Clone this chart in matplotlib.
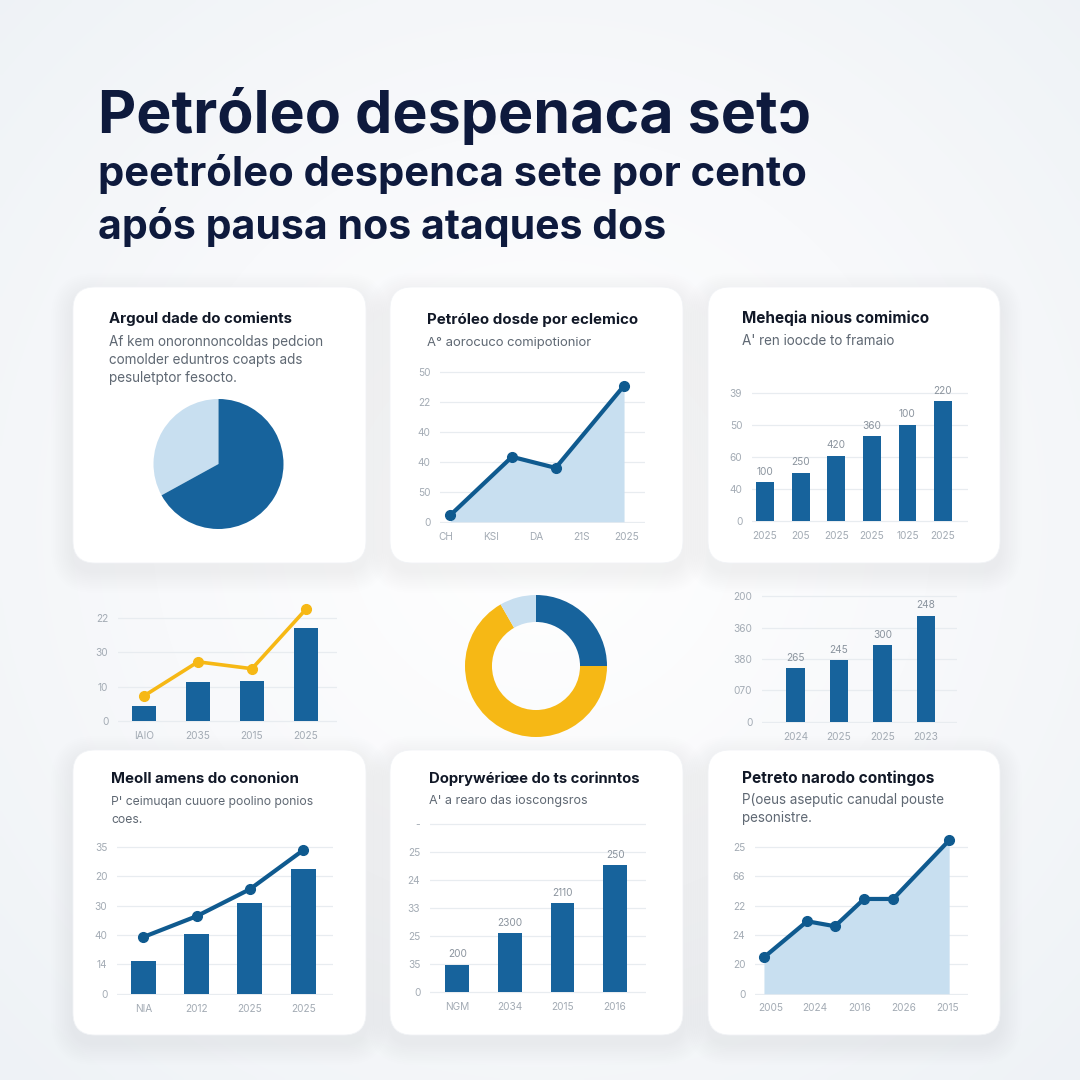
import numpy as np
import matplotlib
matplotlib.use("Agg")
import matplotlib.pyplot as plt
from matplotlib.patches import FancyBboxPatch
from matplotlib.colors import LinearSegmentedColormap

# ---------------- data ----------------
headline = "Petróleo despenaca setɔ"
subhead1 = "peetróleo despenca sete por cento"
subhead2 = "após pausa nos ataques dos"

card_titles = ["Argoul dade do comients", "Petróleo dosde por eclemico", "Meheqia nious comimico",
               "Meoll amens do cononion", "Doprywériœe do ts corinntos", "Petreto narodo contingos"]
card_subs = [["Af kem onoronnoncoldas pedcion", "comolder eduntros coapts ads", "pesuletptor fesocto."],
             ["A° aorocuco comipotionior"],
             ["A' ren ioocde to framaio"],
             ["P' ceimuqan cuuore poolino ponios", "coes."],
             ["A' a rearo das ioscongsros"],
             ["P(oeus aseputic canudal pouste", "pesonistre."]]

# card 1: pie
pie_values = [33, 67]

# card 2: area line
c2_x_labels = ["CH", "KSI", "DA", "21S", "2025"]
c2_y_labels = ["0", "50", "40", "40", "22", "50"]
c2_x = [0.09, 1.46, 2.43, 3.95]
c2_y = [0.22, 2.17, 1.80, 4.55]

# card 3: bars
c3_x_labels = ["2025", "205", "2025", "2025", "1025", "2025"]
c3_y_labels = ["0", "40", "60", "50", "39"]
c3_values = [1.21, 1.52, 2.05, 2.66, 3.02, 3.76]
c3_value_labels = ["100", "250", "420", "360", "100", "220"]

# middle left: bars + yellow line
m1_x_labels = ["IAIO", "2035", "2015", "2025"]
m1_y_labels = ["0", "10", "30", "22"]
m1_bars = [0.43, 1.12, 1.16, 2.71]
m1_line = [0.73, 1.72, 1.52, 3.25]

# middle: donut
donut_values = [25, 66.7, 8.3]

# middle right: bars
m3_x_labels = ["2024", "2025", "2025", "2023"]
m3_y_labels = ["0", "070", "380", "360", "200"]
m3_values = [1.70, 1.96, 2.43, 3.37]
m3_value_labels = ["265", "245", "300", "248"]

# bottom left: bars + line
b1_x_labels = ["NIA", "2012", "2025", "2025"]
b1_y_labels = ["0", "14", "40", "30", "20", "35"]
b1_bars = [1.10, 2.03, 3.08, 4.26]
b1_line = [1.93, 2.64, 3.56, 4.89]

# bottom middle: bars
b2_x_labels = ["NGM", "2034", "2015", "2016"]
b2_y_labels = ["0", "35", "25", "33", "24", "25", "-"]
b2_values = [0.99, 2.11, 3.18, 4.54]
b2_value_labels = ["200", "2300", "2110", "250"]

# bottom right: area line
b3_x_labels = ["2005", "2024", "2016", "2026", "2015"]
b3_y_labels = ["0", "20", "24", "22", "66", "25"]
b3_x = [-0.16, 0.82, 1.45, 2.11, 2.77, 4.04]
b3_y = [1.24, 2.47, 2.30, 3.23, 3.23, 5.23]

# ---------------- style ----------------
NAVY = "#0e1a3d"
DARK = "#17639c"
LINE = "#0f5a8f"
LIGHT = "#c8dff0"
YELLOW = "#f6b815"
SUBC = "#5f6873"
TICKC = "#a3abb4"
GRIDC = "#e8ecf0"
FONT = ["Inter", "DejaVu Sans"]

W = H = 1080
fig = plt.figure(figsize=(10.8, 10.8), dpi=100)
renderer = fig.canvas.get_renderer()

# background axes in pixel coordinates
bg = fig.add_axes([0, 0, 1, 1])
bg.set_xlim(0, W)
bg.set_ylim(H, 0)
bg.axis("off")
yy, xx = np.mgrid[0:H:4, 0:W:4]
r = np.sqrt(((xx - 540) / 780.0) ** 2 + ((yy - 520) / 780.0) ** 2)
cmap = LinearSegmentedColormap.from_list("bgc", ["#ffffff", "#f8f9fb", "#eef2f6"])
bg.imshow(np.clip(r, 0, 1), cmap=cmap, vmin=0, vmax=1, extent=[0, W, H, 0],
          aspect="auto", zorder=0, interpolation="bilinear")


def fit(t, target_w):
    w = t.get_window_extent(renderer).width
    t.set_fontsize(t.get_fontsize() * target_w / w)
    return t.get_fontsize()


def card(x0, y0, x1, y1):
    for i in range(12):
        p = 2 + i * 1.8
        bg.add_patch(FancyBboxPatch((x0 - p, y0 - p + 8), x1 - x0 + 2 * p, y1 - y0 + 2 * p,
                                    boxstyle="round,pad=0,rounding_size=%f" % (22 + p),
                                    fc="#8a9db2", ec="none", alpha=0.009, zorder=1))
    bg.add_patch(FancyBboxPatch((x0, y0), x1 - x0, y1 - y0,
                                boxstyle="round,pad=0,rounding_size=22",
                                fc="white", ec="#f1f3f6", lw=0.6, zorder=2))


cards = [(73, 287, 366, 563), (390, 287, 683, 563), (708, 287, 1000, 563),
         (73, 750, 366, 1035), (390, 750, 683, 1035), (708, 750, 1000, 1035)]
for c in cards:
    card(*c)

# headline
for txt, base, wdt in [(headline, 133, 713), (subhead1, 186, 710), (subhead2, 239, 568)]:
    t = bg.text(98, base, txt, fontsize=30, fontweight="bold", color=NAVY,
                family=FONT, va="baseline", ha="left", zorder=5)
    fit(t, wdt)

# card titles and subtitles
title_pos = [(109, 323, 183), (427, 324, 210), (742, 323, 186),
             (111, 783, 187), (429, 783, 211), (742, 783, 192)]
sub_pos = [(346, 18, 217), (346, 18, 165), (345, 18, 154),
           (805, 18, 203), (804, 18, 159), (804, 18, 205)]
for i in range(6):
    x, base, wdt = title_pos[i]
    t = bg.text(x, base, card_titles[i], fontsize=10, fontweight="bold", color="#111827",
                family=FONT, va="baseline", ha="left", zorder=5)
    fit(t, wdt)
    sb, step, sw = sub_pos[i]
    fs = None
    for j, line in enumerate(card_subs[i]):
        t = bg.text(x, sb + j * step, line, fontsize=9 if fs is None else fs, color=SUBC,
                    family=FONT, va="baseline", ha="left", zorder=5)
        if fs is None:
            fs = fit(t, sw)


def chart_axes(gx0, gx1, zero_px, step_px, first_px, spacing_px, ylo, yhi, ylabels, xlabels):
    x0 = (gx0 - first_px) / spacing_px
    x1 = (gx1 - first_px) / spacing_px
    top = zero_px - yhi * step_px
    bot = zero_px - ylo * step_px
    ax = fig.add_axes([gx0 / W, 1 - bot / H, (gx1 - gx0) / W, (bot - top) / H])
    ax.set_facecolor("none")
    ax.set_xlim(x0, x1)
    ax.set_ylim(ylo, yhi)
    ax.set_yticks(range(len(ylabels)))
    ax.set_yticklabels(ylabels)
    ax.set_xticks(range(len(xlabels)))
    ax.set_xticklabels(xlabels)
    for s in ax.spines.values():
        s.set_visible(False)
    ax.tick_params(axis="both", length=0, labelsize=7.3, labelcolor=TICKC)
    ax.tick_params(axis="y", pad=7)
    ax.tick_params(axis="x", pad=6)
    for lab in ax.get_xticklabels() + ax.get_yticklabels():
        lab.set_family(FONT)
    ax.grid(axis="y", color=GRIDC, lw=0.9)
    ax.set_axisbelow(True)
    return ax


def value_labels(ax, xs, vals, labels):
    for xv, v, lab in zip(xs, vals, labels):
        ax.annotate(lab, (xv, v), xytext=(0, 4), textcoords="offset points",
                    ha="center", va="bottom", fontsize=7.3, color="#8b949e",
                    family=FONT, annotation_clip=False)


# card 1 pie
axp = fig.add_axes([(218.5 - 65) / W, 1 - (464 + 65) / H, 130 / W, 130 / H])
axp.pie(pie_values, colors=[LIGHT, DARK], startangle=90, counterclock=True,
        wedgeprops=dict(linewidth=0))
axp.set_xlim(-1, 1)
axp.set_ylim(-1, 1)
axp.set_aspect("equal")
axp.axis("off")

# card 2 area line
ax2 = chart_axes(440, 645, 521.7, 29.9, 446.3, 45.0, -0.05, 5.3, c2_y_labels, c2_x_labels)
ax2.fill_between(c2_x, c2_y, 0, color=LIGHT, lw=0, zorder=1)
ax2.plot(c2_x, c2_y, color=LINE, lw=3, marker="o", ms=7, zorder=3, clip_on=False)

# card 3 bars
ax3 = chart_axes(752, 968, 521, 31.9, 765, 35.6, -0.05, 4.3, c3_y_labels, c3_x_labels)
x3 = np.arange(len(c3_values))
ax3.bar(x3, c3_values, width=0.5, color=DARK, zorder=2)
value_labels(ax3, x3, c3_values, c3_value_labels)

# middle left combo
axm1 = chart_axes(118, 337, 721, 34.4, 144, 54.0, -0.05, 3.5, m1_y_labels, m1_x_labels)
xm1 = np.arange(len(m1_bars))
axm1.bar(xm1, m1_bars, width=0.45, color=DARK, zorder=2)
axm1.plot(xm1, m1_line, color=YELLOW, lw=2.6, marker="o", ms=7, zorder=3, clip_on=False)

# donut
axd = fig.add_axes([(536 - 71) / W, 1 - (666 + 71) / H, 142 / W, 142 / H])
axd.pie(donut_values, colors=[DARK, YELLOW, LIGHT], startangle=90, counterclock=False,
        wedgeprops=dict(width=0.38, linewidth=0))
axd.set_xlim(-1, 1)
axd.set_ylim(-1, 1)
axd.set_aspect("equal")
axd.axis("off")

# middle right bars
axm3 = chart_axes(762, 957, 721.7, 31.4, 795.7, 43.4, -0.05, 4.3, m3_y_labels, m3_x_labels)
xm3 = np.arange(len(m3_values))
axm3.bar(xm3, m3_values, width=0.43, color=DARK, zorder=2)
value_labels(axm3, xm3, m3_values, m3_value_labels)

# bottom left combo
axb1 = chart_axes(117, 333, 993.7, 29.35, 143.3, 53.3, -0.05, 5.3, b1_y_labels, b1_x_labels)
xb1 = np.arange(len(b1_bars))
axb1.bar(xb1, b1_bars, width=0.47, color=DARK, zorder=2)
axb1.plot(xb1, b1_line, color=LINE, lw=3, marker="o", ms=7, zorder=3, clip_on=False)

# bottom middle bars
axb2 = chart_axes(430, 646, 992.3, 28.0, 457.3, 52.6, -0.05, 6.3, b2_y_labels, b2_x_labels)
xb2 = np.arange(len(b2_values))
axb2.bar(xb2, b2_values, width=0.45, color=DARK, zorder=2)
value_labels(axb2, xb2, b2_values, b2_value_labels)

# bottom right area line
axb3 = chart_axes(755, 968, 993.7, 29.33, 771, 44.1, -0.05, 5.4, b3_y_labels, b3_x_labels)
axb3.fill_between(b3_x, b3_y, 0, color=LIGHT, lw=0, zorder=1)
axb3.plot(b3_x, b3_y, color=LINE, lw=3, marker="o", ms=7, zorder=3, clip_on=False)

fig.savefig("out.png", dpi=100)
